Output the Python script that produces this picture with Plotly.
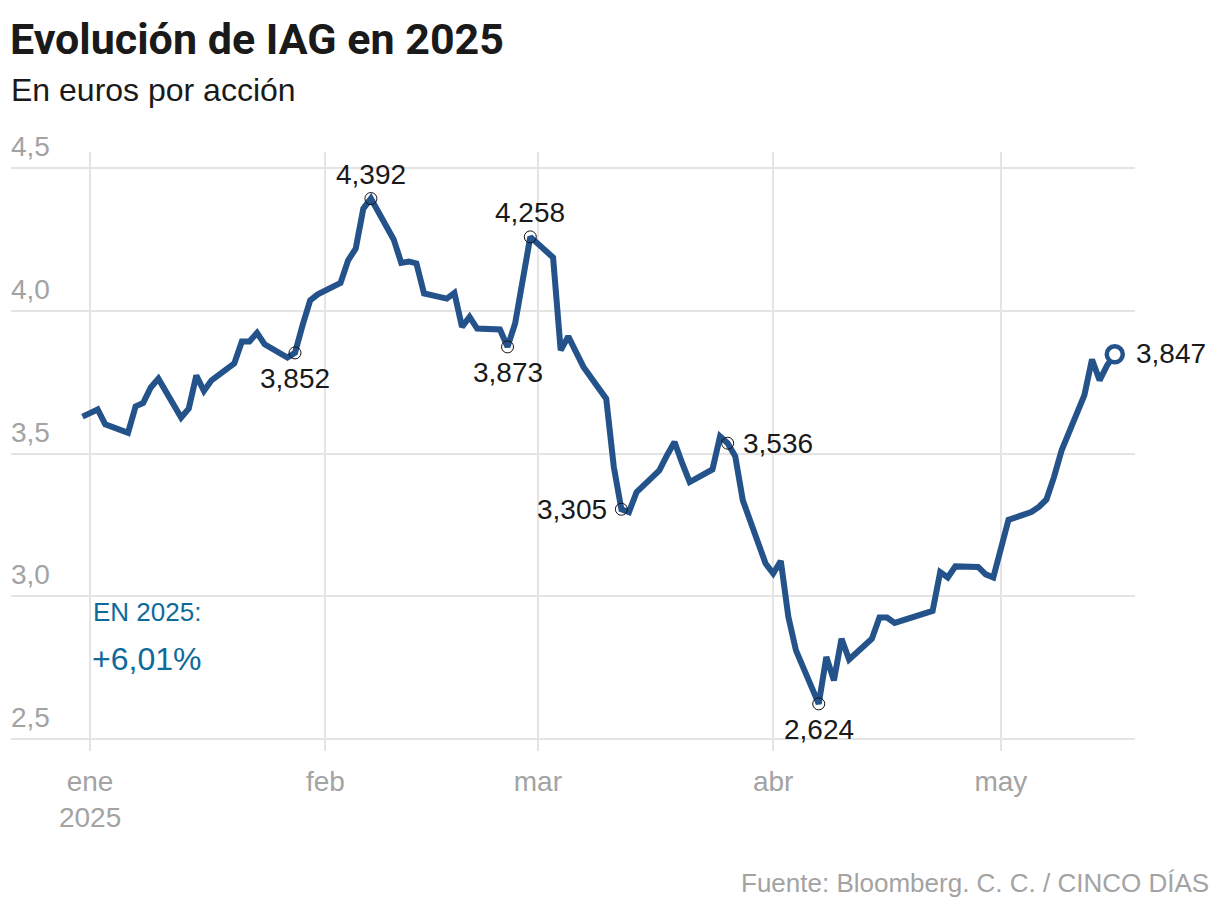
import plotly.graph_objects as go

# ---------------- data ----------------
dates = [
    "2024-12-31",
    "2025-01-02", "2025-01-03", "2025-01-06", "2025-01-07", "2025-01-08", "2025-01-09", "2025-01-10",
    "2025-01-13", "2025-01-14", "2025-01-15", "2025-01-16", "2025-01-17",
    "2025-01-20", "2025-01-21", "2025-01-22", "2025-01-23", "2025-01-24",
    "2025-01-27", "2025-01-28", "2025-01-29", "2025-01-30", "2025-01-31",
    "2025-02-03", "2025-02-04", "2025-02-05", "2025-02-06", "2025-02-07",
    "2025-02-10", "2025-02-11", "2025-02-12", "2025-02-13", "2025-02-14",
    "2025-02-17", "2025-02-18", "2025-02-19", "2025-02-20", "2025-02-21",
    "2025-02-24", "2025-02-25", "2025-02-26", "2025-02-27", "2025-02-28",
    "2025-03-03", "2025-03-04", "2025-03-05", "2025-03-06", "2025-03-07",
    "2025-03-10", "2025-03-11", "2025-03-12", "2025-03-13", "2025-03-14",
    "2025-03-17", "2025-03-18", "2025-03-19", "2025-03-20", "2025-03-21",
    "2025-03-24", "2025-03-25", "2025-03-26", "2025-03-27", "2025-03-28",
    "2025-03-31", "2025-04-01", "2025-04-02", "2025-04-03", "2025-04-04",
    "2025-04-07", "2025-04-08", "2025-04-09", "2025-04-10", "2025-04-11",
    "2025-04-14", "2025-04-15", "2025-04-16", "2025-04-17",
    "2025-04-22", "2025-04-23", "2025-04-24", "2025-04-25",
    "2025-04-28", "2025-04-29", "2025-04-30",
    "2025-05-02",
    "2025-05-05", "2025-05-06", "2025-05-07", "2025-05-08", "2025-05-09",
    "2025-05-12", "2025-05-13", "2025-05-14", "2025-05-15", "2025-05-16",
]
prices = [
    3.629,
    3.654, 3.602, 3.572, 3.665, 3.677, 3.731, 3.762,
    3.626, 3.657, 3.773, 3.719, 3.756,
    3.815, 3.892, 3.892, 3.922, 3.882,
    3.836, 3.852, 3.949, 4.036, 4.057,
    4.097, 4.176, 4.217, 4.357, 4.392,
    4.249, 4.167, 4.172, 4.165, 4.060,
    4.042, 4.062, 3.943, 3.978, 3.937,
    3.934, 3.873, 3.955, 4.100, 4.258,
    4.186, 3.861, 3.910, 3.859, 3.803,
    3.692, 3.453, 3.305, 3.295, 3.365,
    3.441, 3.493, 3.540, 3.467, 3.400,
    3.444, 3.560, 3.536, 3.490, 3.336,
    3.115, 3.080, 3.124, 2.928, 2.811,
    2.624, 2.788, 2.706, 2.852, 2.779,
    2.852, 2.926, 2.926, 2.907,
    2.949, 3.085, 3.066, 3.105,
    3.103, 3.077, 3.066,
    3.268,
    3.295, 3.313, 3.339, 3.418, 3.511,
    3.704, 3.829, 3.756, 3.809, 3.847,
]

label_dates = ["2025-01-28", "2025-02-07", "2025-02-25", "2025-02-28",
               "2025-03-12", "2025-03-26", "2025-04-07"]
label_sides = ["below", "above", "below", "above", "left", "right", "below"]

month_ticks = ["2025-01-01", "2025-02-01", "2025-03-01", "2025-04-01", "2025-05-01"]
month_labels = ["ene<br>2025", "feb", "mar", "abr", "may"]
y_ticks = [2.5, 3.0, 3.5, 4.0, 4.5]

title = "Evolución de IAG en 2025"
subtitle = "En euros por acción"
source = "Fuente: Bloomberg. C. C. / CINCO DÍAS"

# ---------------- style ----------------
W, H = 1220, 914
OFF = 8  # page body margin
ML, MR, MT, MB = 3, 93, 144, 171
LINE = "#24528a"
GRID = "#e4e4e4"
GREY = "#a3a3a3"
BLUE = "#0f6a9c"
FONT = "Liberation Sans"
TFONT = "Roboto"

def fmt(v, n=3):
    return f"{v:.{n}f}".replace(".", ",")

plot_w = W - ML - MR
plot_h = H - MT - MB

def paper_x(px):
    return (px - OFF - ML) / plot_w

def paper_y(py):
    return (H - MB - (py - OFF)) / plot_h

fig = go.Figure()

fig.add_trace(go.Scatter(
    x=dates, y=prices, mode="lines",
    line=dict(color=LINE, width=6),
    hoverinfo="skip", showlegend=False,
))

lab_vals = [prices[dates.index(d)] for d in label_dates]
fig.add_trace(go.Scatter(
    x=label_dates, y=lab_vals, mode="markers",
    marker=dict(size=12, color="rgba(0,0,0,0)", line=dict(color="#111111", width=1)),
    hoverinfo="skip", showlegend=False,
))

# last point
fig.add_trace(go.Scatter(
    x=[dates[-1]], y=[prices[-1]], mode="markers",
    marker=dict(size=16, color="white", line=dict(color=LINE, width=4.5)),
    hoverinfo="skip", showlegend=False,
))

lab_font = dict(family=FONT, size=28, color="#1a1a1a")
for d, v, side in zip(label_dates, lab_vals, label_sides):
    kw = dict(x=d, y=v, text=fmt(v), showarrow=False, font=lab_font)
    if side == "above":
        kw.update(xanchor="center", yanchor="bottom", yshift=7)
    elif side == "below":
        kw.update(xanchor="center", yanchor="top", yshift=-8)
    elif side == "left":
        kw.update(xanchor="right", yanchor="middle", xshift=-12)
    else:
        kw.update(xanchor="left", yanchor="middle", xshift=13)
    fig.add_annotation(**kw)

fig.add_annotation(x=dates[-1], y=prices[-1], text=fmt(prices[-1]), showarrow=False,
                   xanchor="left", yanchor="middle", xshift=19, yshift=1, font=lab_font)

# y tick labels sitting above the gridlines
for t in y_ticks:
    fig.add_annotation(xref="paper", yref="y", x=paper_x(9), y=t, text=fmt(t, 1),
                       showarrow=False, xanchor="left", yanchor="bottom", yshift=4,
                       font=dict(family=FONT, size=28, color=GREY))

change = (prices[-1] / prices[0] - 1) * 100
fig.add_annotation(xref="paper", yref="paper", x=paper_x(91), y=paper_y(612),
                   text="EN 2025:", showarrow=False, xanchor="left", yanchor="middle",
                   font=dict(family=FONT, size=26, color=BLUE))
fig.add_annotation(xref="paper", yref="paper", x=paper_x(90), y=paper_y(659),
                   text=("+" if change >= 0 else "") + fmt(change, 2) + "%",
                   showarrow=False, xanchor="left", yanchor="middle",
                   font=dict(family=FONT, size=32, color=BLUE))

fig.add_annotation(xref="paper", yref="paper", x=paper_x(8), y=paper_y(39),
                   text=f"<b>{title}</b>", showarrow=False, xanchor="left", yanchor="middle",
                   font=dict(family=TFONT, size=43, color="#1a1a1a", weight=900))
fig.add_annotation(xref="paper", yref="paper", x=paper_x(9), y=paper_y(90),
                   text=subtitle, showarrow=False, xanchor="left", yanchor="middle",
                   font=dict(family=FONT, size=32, color="#1a1a1a"))
fig.add_annotation(xref="paper", yref="paper", x=paper_x(1211), y=paper_y(883),
                   text=source, showarrow=False, xanchor="right", yanchor="middle",
                   font=dict(family=FONT, size=26, color=GREY))

fig.update_layout(
    width=W, height=H,
    margin=dict(l=ML, r=MR, t=MT, b=MB),
    paper_bgcolor="white", plot_bgcolor="white",
    separators=",.",
    showlegend=False,
    font=dict(family=FONT),
)
fig.update_xaxes(
    type="date",
    range=["2024-12-21 14:00", "2025-05-18 16:00"],
    tickvals=month_ticks, ticktext=month_labels,
    showgrid=True, gridcolor=GRID, gridwidth=2,
    zeroline=False, showline=False, ticks="",
    ticklabelstandoff=11,
    tickfont=dict(family=FONT, size=28, color=GREY),
)
fig.update_yaxes(
    range=[2.459, 4.555],
    tickvals=y_ticks,
    showgrid=True, gridcolor=GRID, gridwidth=2,
    zeroline=False, showline=False, ticks="",
    showticklabels=False,
)

fig.write_html("out.html")
